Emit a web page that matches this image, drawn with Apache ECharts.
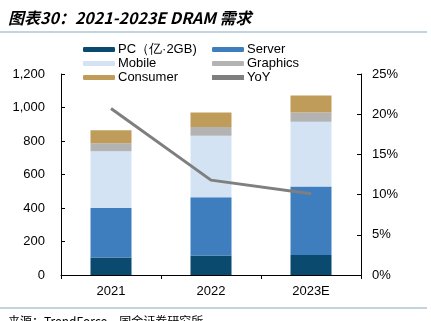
<!DOCTYPE html>
<html><head><meta charset="utf-8">
<script src="https://cdn.jsdelivr.net/npm/echarts@6/dist/echarts.min.js"></script>
<style>html,body{margin:0;padding:0;background:#fff;}#c{width:431px;height:321px;}</style>
</head><body><div id="c"></div>
<script>
const categories = ['2021', '2022', '2023E'];
const pc = [105, 116, 120];
const server = [295, 348, 409];
const mobile = [339, 368, 386];
const graphics = [48, 51, 55];
const consumer = [77, 87, 101];
const yoy = [20.7, 11.8, 10.1];
const leftTicks = {min: 0, max: 1200, interval: 200};
const rightTicks = {min: 0, max: 25, interval: 5};

const chart = echarts.init(document.getElementById('c'), null, {renderer: 'canvas'});
const font = 'Liberation Sans, Arial, sans-serif';
const axisCommon = {
  axisLine: {show: true, lineStyle: {color: '#000', width: 1}},
  axisTick: {show: true, inside: true, length: 4, lineStyle: {color: '#000'}},
  splitLine: {show: false}
};
const legendCommon = {
  orient: 'vertical', itemWidth: 32, itemHeight: 5, itemGap: 1,
  textStyle: {fontSize: 13, fontFamily: font, color: '#000', lineHeight: 13, padding: [0,0,0,-2]},
  padding: 0
};
function bar(name, data, color) {
  return {name, type: 'bar', stack: 'a', data, barWidth: 41,
    itemStyle: {color}, emphasis: {disabled: true}};
}
chart.setOption({
  animation: false,
  graphic: [
    {type: 'text', left: 8, top: 10, style: {text: '图表30：2021-2023E DRAM 需求', fontSize: 16, fontWeight: 'bold', fontStyle: 'italic', fontFamily: 'Noto Sans CJK SC', fill: '#000'}},
    {type: 'line', shape: {x1: 0, y1: 32, x2: 427, y2: 32}, style: {stroke: '#86a9bb', lineWidth: 1}},
    {type: 'line', shape: {x1: 0, y1: 308, x2: 427, y2: 308}, style: {stroke: '#86a9bb', lineWidth: 1}},
    {type: 'text', left: 8, top: 315, style: {text: '来源：TrendForce，国金证券研究所', fontSize: 12, fontFamily: 'Noto Sans CJK SC', fill: '#000'}}
  ],
  legend: [
    Object.assign({left: 83, top: 43, data: ['PC（亿·2GB)', 'Mobile', 'Consumer']}, legendCommon),
    Object.assign({left: 212, top: 43, data: ['Server', 'Graphics', {name: 'YoY', icon: 'rect', itemStyle: {color: '#7f7f7f'}}]}, legendCommon)
  ],
  grid: {left: 61, right: 70, top: 74, bottom: 46},
  xAxis: {type: 'category', data: categories,
    axisLine: {lineStyle: {color: '#000'}}, axisTick: {show: true, inside: false, length: 4, lineStyle: {color: '#000'}},
    axisLabel: {color: '#000', fontSize: 13, fontFamily: font, margin: 10}},
  yAxis: [
    Object.assign({type: 'value', min: leftTicks.min, max: leftTicks.max, interval: leftTicks.interval}, axisCommon,
      {axisLabel: {color: '#000', fontSize: 13, fontFamily: font, margin: 16, formatter: v => v.toLocaleString('en-US')}}),
    Object.assign({type: 'value', position: 'right', min: rightTicks.min, max: rightTicks.max, interval: rightTicks.interval}, axisCommon,
      {axisLabel: {color: '#000', fontSize: 13, fontFamily: font, margin: 11, formatter: '{value}%'}})
  ],
  series: [
    bar('PC（亿·2GB)', pc, '#0b4a6f'),
    bar('Server', server, '#3f7ebe'),
    bar('Mobile', mobile, '#d3e3f3'),
    bar('Graphics', graphics, '#b3b3b3'),
    bar('Consumer', consumer, '#bf9c5a'),
    {name: 'YoY', type: 'line', yAxisIndex: 1, data: yoy, symbol: 'none',
      lineStyle: {color: '#7f7f7f', width: 3}, itemStyle: {color: '#7f7f7f'}, emphasis: {disabled: true}}
  ]
});
</script></body></html>
